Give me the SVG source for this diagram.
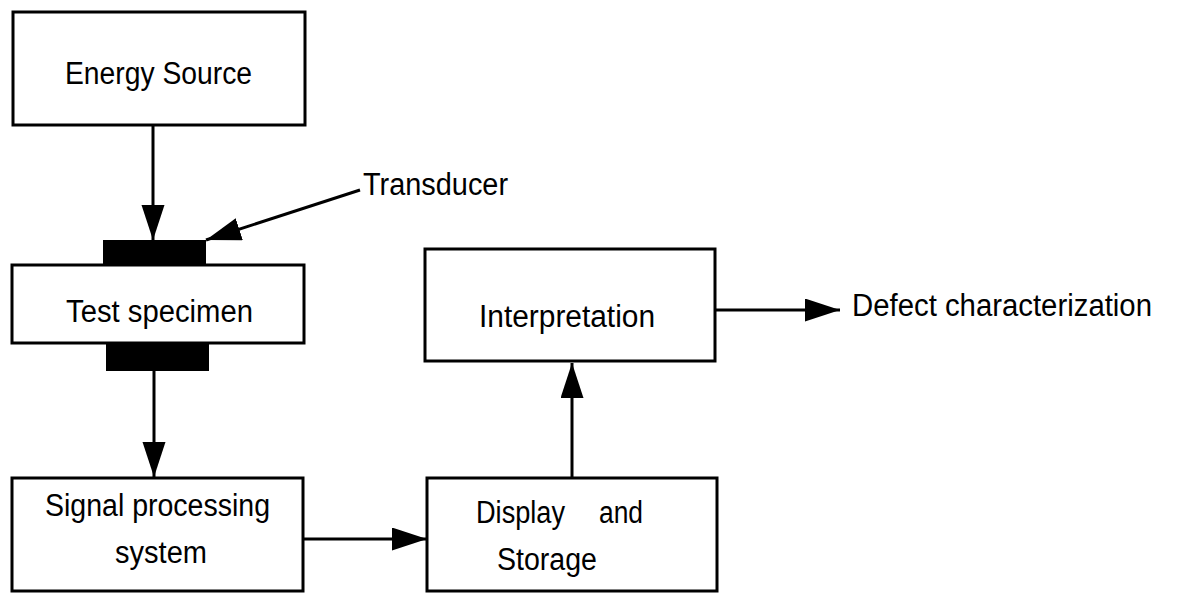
<svg xmlns="http://www.w3.org/2000/svg" width="1177" height="593" viewBox="0 0 1177 593">
  <style>
    .box { fill: #fff; stroke: #000; stroke-width: 3; }
    .pad { fill: #000; }
    .lbl { font-family: "Liberation Sans", Arial, sans-serif; font-size: 31px; fill: #000; }
    .wire { stroke: #000; stroke-width: 3; fill: none; marker-end: url(#head); }
  </style>
  <defs>
    <marker id="head" markerUnits="userSpaceOnUse" markerWidth="36" markerHeight="24" refX="35" refY="11.5" orient="auto">
      <path d="M0,0 L35,11.5 L0,23 z" fill="#000"/>
    </marker>
  </defs>
  <rect width="1177" height="593" fill="#fff"/>

  <g id="energy-source">
    <rect class="box" x="13" y="12" width="292" height="113"/>
    <text class="lbl" x="65" y="84" textLength="187" lengthAdjust="spacingAndGlyphs">Energy Source</text>
  </g>

  <g id="test-specimen">
    <rect class="pad" x="103" y="240" width="103" height="25"/>
    <rect class="box" x="12" y="265" width="292" height="78"/>
    <rect class="pad" x="106" y="343" width="103" height="28"/>
    <text class="lbl" x="66" y="322" textLength="187" lengthAdjust="spacingAndGlyphs">Test specimen</text>
  </g>

  <g id="transducer">
    <text class="lbl" x="363" y="195" textLength="145" lengthAdjust="spacingAndGlyphs">Transducer</text>
  </g>

  <g id="signal-processing">
    <rect class="box" x="12" y="478" width="291" height="113"/>
    <text class="lbl" x="45" y="516" textLength="225" lengthAdjust="spacingAndGlyphs">Signal processing</text>
    <text class="lbl" x="115" y="563" textLength="92" lengthAdjust="spacingAndGlyphs">system</text>
  </g>

  <g id="display-storage">
    <rect class="box" x="427" y="478" width="290" height="113"/>
    <text class="lbl" x="476" y="523" textLength="89" lengthAdjust="spacingAndGlyphs">Display</text>
    <text class="lbl" x="599" y="523" textLength="44" lengthAdjust="spacingAndGlyphs">and</text>
    <text class="lbl" x="497" y="570" textLength="100" lengthAdjust="spacingAndGlyphs">Storage</text>
  </g>

  <g id="interpretation">
    <rect class="box" x="425" y="249" width="290" height="112"/>
    <text class="lbl" x="479" y="327" textLength="176" lengthAdjust="spacingAndGlyphs">Interpretation</text>
  </g>

  <g id="defect">
    <text class="lbl" x="852" y="316" textLength="300" lengthAdjust="spacingAndGlyphs">Defect characterization</text>
  </g>

  <g id="connectors">
    <line class="wire" x1="153" y1="125" x2="153" y2="240"/>
    <line class="wire" x1="360" y1="190" x2="206" y2="240"/>
    <line class="wire" x1="154" y1="371" x2="154" y2="477"/>
    <line class="wire" x1="303" y1="539" x2="427" y2="539"/>
    <line class="wire" x1="572" y1="478" x2="572" y2="363"/>
    <line class="wire" x1="715" y1="310" x2="840" y2="310"/>
  </g>
</svg>
